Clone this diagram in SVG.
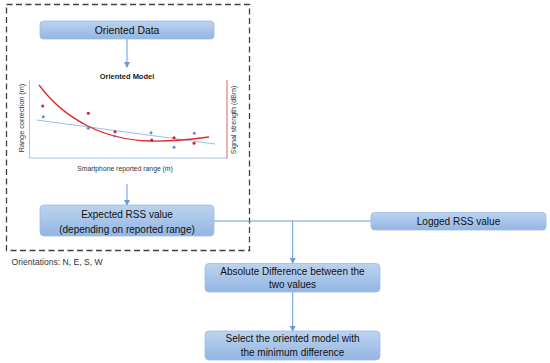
<svg xmlns="http://www.w3.org/2000/svg" width="550" height="363" viewBox="0 0 550 363">
<defs>
<linearGradient id="g" x1="0" y1="0" x2="0" y2="1">
<stop offset="0" stop-color="#bcd3ef"/>
<stop offset="1" stop-color="#93b6e2"/>
</linearGradient>
<marker id="ah" viewBox="0 0 6 6" refX="5" refY="3" markerWidth="6" markerHeight="6" orient="auto" markerUnits="userSpaceOnUse">
<path d="M0,0 L6,3 L0,6 z" fill="#6a9bd6"/>
</marker>
</defs>
<style>
.box{fill:url(#g);stroke:#9dbbe0;stroke-width:0.8}
.t{font-family:"Liberation Sans",Arial,sans-serif;font-size:10px;fill:#111;text-anchor:middle;dominant-baseline:central}
.c{stroke:#6a9bd6;stroke-width:1;fill:none}
.s{font-family:"Liberation Sans",Arial,sans-serif;font-size:6.8px;fill:#333;text-anchor:middle;dominant-baseline:central}
</style>
<rect x="6.5" y="4.5" width="243" height="246" fill="none" stroke="#404040" stroke-width="1.3" stroke-dasharray="6,3.5"/>
<text x="11.5" y="262" style="font-family:'Liberation Sans',Arial,sans-serif;font-size:8.6px;fill:#333;dominant-baseline:central">Orientations: N, E, S, W</text>
<g id="chart">
<text x="127" y="76" class="s" style="font-weight:bold;font-size:7.5px;fill:#222">Oriented Model</text>
<line x1="29.5" y1="80" x2="29.5" y2="158" stroke="#a9c3e3" stroke-width="1"/>
<line x1="29" y1="158" x2="227" y2="158" stroke="#a9c3e3" stroke-width="1"/>
<line x1="227" y1="80" x2="227" y2="158.5" stroke="#e06060" stroke-width="1"/>
<text class="s" transform="translate(21,118) rotate(-90)" style="font-size:7.3px">Range correction (m)</text>
<text class="s" transform="translate(234,120) rotate(-90)" style="font-size:7.1px">Signal strength (dBm)</text>
<text x="125" y="168" class="s">Smartphone reported range (m)</text>
<line x1="36.5" y1="120" x2="215" y2="144" stroke="#9dbde0" stroke-width="1"/>
<path d="M39,85 C65,120 105,140 150,141 C175,141.5 195,139 209,137" fill="none" stroke="#e02828" stroke-width="1.3"/>
<g fill="#d21f1f">
<circle cx="42.7" cy="106" r="1.5"/><circle cx="88.3" cy="113.3" r="1.5"/><circle cx="115" cy="131.7" r="1.5"/><circle cx="151.7" cy="140" r="1.5"/><circle cx="174" cy="137.7" r="1.5"/><circle cx="194" cy="143.3" r="1.5"/>
</g>
<g fill="#5d93d3">
<circle cx="43.3" cy="116.7" r="1.5"/><circle cx="88.3" cy="128.3" r="1.5"/><circle cx="114.3" cy="136" r="1.5"/><circle cx="151" cy="132.7" r="1.5"/><circle cx="174" cy="147.3" r="1.5"/><circle cx="194.3" cy="133.3" r="1.5"/>
</g>
</g>
<g id="connectors">
<line class="c" x1="127" y1="39" x2="127" y2="67" marker-end="url(#ah)"/>
<line class="c" x1="127" y1="184" x2="127" y2="205" marker-end="url(#ah)"/>
<line class="c" x1="214" y1="221" x2="371" y2="221"/>
<line class="c" x1="292.7" y1="221" x2="292.7" y2="263" marker-end="url(#ah)"/>
<line class="c" x1="292.7" y1="292" x2="292.7" y2="331" marker-end="url(#ah)"/>
</g>
<g id="oriented-data">
<rect class="box" x="40" y="21" width="174" height="18" rx="3.5"/>
<text class="t" x="127" y="30" style="font-size:10.4px">Oriented Data</text>
</g>
<g id="expected-rss">
<rect class="box" x="40" y="205" width="174" height="31" rx="4"/>
<text class="t" x="127" y="214.5">Expected RSS value</text>
<text class="t" x="127" y="229">(depending on reported range)</text>
</g>
<g id="logged-rss">
<rect class="box" x="371" y="212.5" width="175" height="17.5" rx="3.5"/>
<text class="t" x="458.5" y="221.3">Logged RSS value</text>
</g>
<g id="absolute-difference">
<rect class="box" x="205" y="263.5" width="175" height="28.5" rx="4"/>
<text class="t" x="292.5" y="271.3">Absolute Difference between the</text>
<text class="t" x="292.5" y="284.5">two values</text>
</g>
<g id="select-model">
<rect class="box" x="205" y="331" width="175" height="29" rx="4"/>
<text class="t" x="292.5" y="338">Select the oriented model with</text>
<text class="t" x="292.5" y="352.5">the minimum difference</text>
</g>
</svg>
